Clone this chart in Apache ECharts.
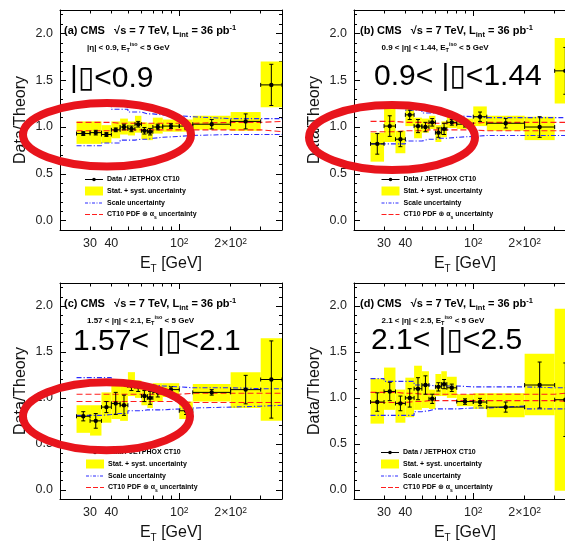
<!DOCTYPE html>
<html><head><meta charset="utf-8">
<script src="https://cdn.jsdelivr.net/npm/echarts@6/dist/echarts.min.js"></script>
<style>html,body{margin:0;padding:0;background:#fff;overflow:hidden;width:565px;height:544px}#c{width:590px;height:544px}</style>
</head><body><div id="c"></div>
<script>
// ---- bins (E_T in GeV) ----
const binLo = [25,30,35,40,45,50,55,60,65,70,80,100,120,200,300];
const binHi = [30,35,40,45,50,55,60,65,70,80,100,120,200,300,400];
// ---- tick labels ----
const xTickLabels = [30,40,100,200];
const xMinorTicks = [20,30,40,50,60,70,80,90,200,300,400];
const xMajorTicks = [100];
const yTickLabels = [0,0.5,1,1.5,2];
const yMinorTicks = [-0.1,0,0.1,0.2,0.3,0.4,0.5,0.6,0.7,0.8,0.9,1,1.1,1.2,1.3,1.4,1.5,1.6,1.7,1.8,1.9,2,2.1,2.2];
// ---- panel (a) |eta|<0.9 ----
const ratioA  = [0.93,0.94,0.92,0.97,1.00,0.98,1.03,0.96,0.95,1.00,1.01,1.01,1.03,1.06,1.45];
const statA   = [0.02,0.025,0.02,0.02,0.03,0.03,0.03,0.035,0.035,0.03,0.025,0.03,0.05,0.08,0.22];
const boxLoA  = [0.82,0.82,0.83,0.88,0.92,0.91,0.94,0.87,0.86,0.93,0.95,0.95,0.97,0.96,1.21];
const boxHiA  = [1.06,1.06,1.02,1.06,1.09,1.06,1.12,1.05,1.04,1.10,1.08,1.08,1.12,1.16,1.70];
const scaleUpA = [1.22,1.22,1.22,1.19,1.19,1.16,1.16,1.14,1.14,1.13,1.12,1.11,1.09,1.09,1.09];
const scaleLoA = [0.80,0.80,0.83,0.83,0.86,0.86,0.87,0.87,0.88,0.89,0.90,0.91,0.92,0.92,0.92];
const pdfUpA  = [1.05,1.05,1.05,1.04,1.04,1.04,1.04,1.04,1.04,1.04,1.04,1.04,1.05,1.05,1.06];
const pdfLoA  = [0.96,0.96,0.96,0.97,0.97,0.97,0.97,0.97,0.97,0.97,0.97,0.97,0.97,0.97,0.95];
// ---- panel (b) 0.9<|eta|<1.44 ----
const ratioB  = [0.82,1.01,0.87,1.13,1.01,1.00,1.05,0.94,0.98,1.05,1.03,1.11,1.04,1.00,1.60];
const statB   = [0.11,0.11,0.08,0.05,0.07,0.05,0.04,0.05,0.06,0.03,0.03,0.05,0.05,0.11,0.25];
const boxLoB  = [0.63,0.84,0.72,1.01,0.88,0.94,0.98,0.84,0.89,0.99,0.98,1.01,0.96,0.86,1.25];
const boxHiB  = [0.94,1.21,0.96,1.25,1.10,1.09,1.12,1.02,1.06,1.11,1.09,1.22,1.12,1.11,1.95];
const scaleUpB = [1.21,1.21,1.21,1.18,1.18,1.15,1.15,1.13,1.13,1.12,1.11,1.10,1.10,1.10,1.10];
const scaleLoB = [0.82,0.82,0.82,0.85,0.85,0.87,0.87,0.88,0.88,0.89,0.90,0.91,0.91,0.91,0.91];
const pdfUpB  = [1.06,1.06,1.05,1.05,1.05,1.04,1.04,1.04,1.04,1.04,1.04,1.05,1.05,1.05,1.05];
const pdfLoB  = [0.95,0.95,0.96,0.96,0.96,0.97,0.97,0.97,0.97,0.97,0.97,0.96,0.96,0.96,0.96];
// ---- panel (c) 1.57<|eta|<2.1 ----
const ratioC  = [0.80,0.75,0.90,0.94,0.92,1.13,1.12,1.02,1.00,1.06,1.09,0.86,1.06,1.09,1.20];
const statC   = [0.05,0.08,0.06,0.12,0.11,0.05,0.05,0.06,0.07,0.05,0.03,0.04,0.03,0.155,0.42];
const boxLoC  = [0.62,0.59,0.73,0.77,0.75,1.02,1.00,0.92,0.89,0.96,1.01,0.77,0.96,0.89,0.75];
const boxHiC  = [0.92,0.92,1.06,1.13,1.15,1.28,1.19,1.14,1.11,1.16,1.16,0.96,1.15,1.28,1.65];
const scaleUpC = [1.22,1.22,1.22,1.18,1.18,1.15,1.15,1.14,1.14,1.13,1.12,1.11,1.11,1.10,1.10];
const scaleLoC = [0.81,0.81,0.82,0.83,0.83,0.86,0.86,0.87,0.87,0.87,0.88,0.89,0.90,0.91,0.92];
const pdfUpC  = [1.04,1.04,1.04,1.04,1.04,1.04,1.04,1.04,1.04,1.04,1.04,1.05,1.05,1.05,1.05];
const pdfLoC  = [0.96,0.96,0.96,0.96,0.96,0.96,0.96,0.96,0.96,0.96,0.96,0.95,0.95,0.95,0.95];
// ---- panel (d) 2.1<|eta|<2.5 ----
const ratioD  = [0.955,1.07,0.94,1.00,1.10,1.14,0.99,1.12,1.15,1.11,0.96,0.955,0.90,1.14,0.98];
const statD   = [0.10,0.10,0.08,0.10,0.12,0.10,0.05,0.045,0.05,0.04,0.03,0.04,0.055,0.25,0.40];
const boxLoD  = [0.72,0.87,0.73,0.79,0.87,0.89,0.88,1.02,1.02,1.00,0.91,0.88,0.79,0.81,-0.01];
const boxHiD  = [1.21,1.33,1.09,1.22,1.35,1.29,1.09,1.26,1.29,1.23,1.04,1.05,1.05,1.48,1.97];
const scaleUpD = [1.21,1.18,1.18,1.18,1.14,1.14,1.13,1.13,1.13,1.13,1.12,1.12,1.12,1.11,1.11];
const scaleLoD = [0.81,0.81,0.81,0.81,0.85,0.86,0.88,0.88,0.88,0.88,0.89,0.89,0.91,0.88,0.88];
const pdfUpD  = [1.06,1.06,1.05,1.05,1.04,1.04,1.04,1.04,1.04,1.04,1.04,1.04,1.04,1.04,1.06];
const pdfLoD  = [0.95,0.95,0.95,0.96,0.96,0.97,0.97,0.97,0.97,0.97,0.97,0.97,0.97,0.97,0.96];

const FONT = '"Liberation Sans", Arial, Helvetica, "DejaVu Sans", sans-serif';
const YELLOW = '#ffff00', BLUE = '#2a2aff', RED = '#ff1e1e', ELL = '#e8141c';

const panels = [
  {grid:{left:60,top:10,width:222,height:220}, letter:'(a)', region:'|η| < 0.9', big:'|▯<0.9', bigPos:[70,79],
   ratio:ratioA, stat:statA, boxLo:boxLoA, boxHi:boxHiA, scaleUp:scaleUpA, scaleLo:scaleLoA, pdfUp:pdfUpA, pdfLo:pdfLoA,
   legX:25, t1x:4, t2x:27, ellipse:{cx:107,cy:134.8,rx:84,ry:31.8}},
  {grid:{left:354,top:10,width:222,height:220}, letter:'(b)', region:'0.9 < |η| < 1.44', big:'0.9< |▯<1.44', bigPos:[374,77],
   ratio:ratioB, stat:statB, boxLo:boxLoB, boxHi:boxHiB, scaleUp:scaleUpB, scaleLo:scaleLoB, pdfUp:pdfUpB, pdfLo:pdfLoB,
   legX:27.5, t1x:6, t2x:27.5, ellipse:{cx:392,cy:137.5,rx:83,ry:32.5}},
  {grid:{left:60,top:283,width:222,height:220}, letter:'(c)', region:'1.57 < |η| < 2.1', big:'1.57< |▯<2.1', bigPos:[73,342],
   ratio:ratioC, stat:statC, boxLo:boxLoC, boxHi:boxHiC, scaleUp:scaleUpC, scaleLo:scaleLoC, pdfUp:pdfUpC, pdfLo:pdfLoC,
   legX:26, t1x:4, t2x:27, ellipse:{cx:106.5,cy:416.3,rx:83.5,ry:34}},
  {grid:{left:354,top:283,width:222,height:220}, letter:'(d)', region:'2.1 < |η| < 2.5', big:'2.1< |▯<2.5', bigPos:[371,341],
   ratio:ratioD, stat:statD, boxLo:boxLoD, boxHi:boxHiD, scaleUp:scaleUpD, scaleLo:scaleLoD, pdfUp:pdfUpD, pdfLo:pdfLoD,
   legX:27, t1x:6, t2x:27.5, ellipse:null}
];

function renderBox(params, api) {
  const p1 = api.coord([api.value(0), api.value(3)]);
  const p2 = api.coord([api.value(1), api.value(2)]);
  return {type:'rect', shape:{x:p1[0], y:p1[1], width:p2[0]-p1[0], height:p2[1]-p1[1]}, style:{fill:YELLOW}};
}
function renderPoint(params, api) {
  const lo = api.value(0), hi = api.value(1), v = api.value(2), e = api.value(3);
  const pl = api.coord([lo, v]), ph = api.coord([hi, v]);
  const cx = (pl[0] + ph[0]) / 2, cy = pl[1];
  const yt = api.coord([lo, v + e])[1], yb = api.coord([lo, v - e])[1];
  const st = {stroke:'#000', lineWidth:1};
  return {type:'group', children:[
    {type:'line', shape:{x1:pl[0], y1:cy, x2:ph[0], y2:cy}, style:st},
    {type:'line', shape:{x1:pl[0], y1:cy-2, x2:pl[0], y2:cy+2}, style:st},
    {type:'line', shape:{x1:ph[0], y1:cy-2, x2:ph[0], y2:cy+2}, style:st},
    {type:'line', shape:{x1:cx, y1:yt, x2:cx, y2:yb}, style:st},
    {type:'line', shape:{x1:cx-2, y1:yt, x2:cx+2, y2:yt}, style:st},
    {type:'line', shape:{x1:cx-2, y1:yb, x2:cx+2, y2:yb}, style:st},
    {type:'circle', shape:{cx:cx, cy:cy, r:2.2}, style:{fill:'#000'}}
  ]};
}

const grids = [], xAxes = [], yAxes = [], series = [], graphics = [];
const xBase = {type:'log', logBase:10, min:20, max:400, splitLine:{show:false}};
const yBase = {type:'value', min:-0.1, max:2.25, splitLine:{show:false}};
const frameLine = {show:true, onZero:false, lineStyle:{color:'#000', width:1}};
const noLine = {show:false, onZero:false};

panels.forEach((p, k) => {
  grids.push(Object.assign({containLabel:false}, p.grid));
  // x axes
  xAxes.push(Object.assign({}, xBase, {gridIndex:k, position:'bottom', axisLine:frameLine,
    axisTick:{show:true, inside:true, length:3.5, customValues:xMinorTicks, lineStyle:{color:'#000'}},
    axisLabel:{show:true, customValues:xTickLabels, margin:7, color:'#222', fontSize:12.5, fontFamily:FONT,
      formatter:(v)=>{const r=Math.round(v); if(r===100) return '10{sup|2}'; if(r===200) return '2×10{sup|2}'; return String(r);},
      rich:{sup:{fontSize:8.5, verticalAlign:'top', fontFamily:FONT, color:'#222'}}},
    name:'E{sub|T} [GeV]', nameLocation:'middle', nameGap:24,
    nameTextStyle:{fontSize:16, color:'#111', fontFamily:FONT, lineHeight:20, rich:{sub:{fontSize:10, verticalAlign:'bottom', fontFamily:FONT, color:'#111'}}}}));
  xAxes.push(Object.assign({}, xBase, {gridIndex:k, position:'bottom', axisLine:noLine, axisLabel:{show:false},
    axisTick:{show:true, inside:true, length:6, customValues:xMajorTicks, lineStyle:{color:'#000'}}}));
  xAxes.push(Object.assign({}, xBase, {gridIndex:k, position:'top', axisLine:frameLine, axisLabel:{show:false},
    axisTick:{show:true, inside:true, length:3.5, customValues:xMinorTicks, lineStyle:{color:'#000'}}}));
  xAxes.push(Object.assign({}, xBase, {gridIndex:k, position:'top', axisLine:noLine, axisLabel:{show:false},
    axisTick:{show:true, inside:true, length:6, customValues:xMajorTicks, lineStyle:{color:'#000'}}}));
  // y axes
  yAxes.push(Object.assign({}, yBase, {gridIndex:k, position:'left', axisLine:frameLine,
    axisTick:{show:true, inside:true, length:6, customValues:yTickLabels, lineStyle:{color:'#000'}},
    axisLabel:{show:true, customValues:yTickLabels, margin:7, color:'#222', fontSize:12.5, fontFamily:FONT,
      formatter:(v)=>Number(v).toFixed(1)},
    name:'Data/Theory', nameLocation:'middle', nameGap:31, nameRotate:90,
    nameTextStyle:{fontSize:16, color:'#111', fontFamily:FONT}}));
  yAxes.push(Object.assign({}, yBase, {gridIndex:k, position:'left', axisLine:noLine, axisLabel:{show:false},
    axisTick:{show:true, inside:true, length:3, customValues:yMinorTicks, lineStyle:{color:'#000'}}}));
  yAxes.push(Object.assign({}, yBase, {gridIndex:k, position:'right', axisLine:frameLine, axisLabel:{show:false},
    axisTick:{show:true, inside:true, length:6, customValues:yTickLabels, lineStyle:{color:'#000'}}}));
  yAxes.push(Object.assign({}, yBase, {gridIndex:k, position:'right', axisLine:noLine, axisLabel:{show:false},
    axisTick:{show:true, inside:true, length:3, customValues:yMinorTicks, lineStyle:{color:'#000'}}}));

  const xi = 4*k, yi = 4*k;
  series.push({type:'custom', name:'Stat. + syst. uncertainty', xAxisIndex:xi, yAxisIndex:yi, z:1, silent:true, clip:true,
    encode:{x:[0,1], y:[2,3]}, renderItem:renderBox,
    data: binLo.map((lo,i)=>[lo, binHi[i], p.boxLo[i], p.boxHi[i]])});
  const stepData = arr => binLo.map((lo,i)=>[lo, arr[i]]).concat([[binHi[binHi.length-1], arr[arr.length-1]]]);
  [p.scaleUp, p.scaleLo].forEach(arr => series.push({type:'line', name:'Scale uncertainty', step:'end', xAxisIndex:xi, yAxisIndex:yi,
    z:2, silent:true, symbol:'none', animation:false, data:stepData(arr),
    lineStyle:{color:BLUE, width:1.1, type:[5,2,1.2,2]}}));
  [p.pdfUp, p.pdfLo].forEach(arr => series.push({type:'line', name:'CT10 PDF uncertainty', step:'end', xAxisIndex:xi, yAxisIndex:yi,
    z:3, silent:true, symbol:'none', animation:false, data:stepData(arr),
    lineStyle:{color:RED, width:1.1, type:[6,3]}}));
  series.push({type:'custom', name:'Data / JETPHOX CT10', xAxisIndex:xi, yAxisIndex:yi, z:5, silent:true, clip:true,
    encode:{x:[0,1], y:2}, renderItem:renderPoint,
    data: binLo.map((lo,i)=>[lo, binHi[i], p.ratio[i], p.stat[i]])});

  // in-panel texts
  const gx = p.grid.left, gy = p.grid.top;
  graphics.push({type:'text', x:gx+p.t1x, y:gy+21, z:100, style:{
    text:p.letter+' CMS   √s = 7 TeV, L{sub|int} = 36 pb{sup|-1}', fill:'#000',
    font:'bold 11px '+FONT, verticalAlign:'middle', align:'left', lineHeight:15,
    rich:{sub:{font:'bold 7.5px '+FONT, verticalAlign:'bottom', lineHeight:15, fill:'#000'},
          sup:{font:'bold 7.5px '+FONT, verticalAlign:'top', lineHeight:15, fill:'#000'}}}});
  graphics.push({type:'text', x:gx+p.t2x, y:gy+37.5, z:100, style:{
    text:p.region+', E{sub|T}{sup|iso} < 5 GeV', fill:'#000',
    font:'bold 8px '+FONT, verticalAlign:'middle', align:'left', lineHeight:12,
    rich:{sub:{font:'bold 5.5px '+FONT, verticalAlign:'bottom', lineHeight:12, fill:'#000'},
          sup:{font:'bold 5.5px '+FONT, verticalAlign:'top', lineHeight:12, fill:'#000'}}}});
  // legend
  const rows = [169.5, 181, 193, 204.5].map(r => gy + r);
  const sx = gx + p.legX, ex = sx + 18, tx = ex + 4;
  graphics.push({type:'line', z:100, shape:{x1:sx, y1:rows[0], x2:ex, y2:rows[0]}, style:{stroke:'#000', lineWidth:1}});
  graphics.push({type:'circle', z:100, shape:{cx:(sx+ex)/2, cy:rows[0], r:1.8}, style:{fill:'#000'}});
  graphics.push({type:'rect', z:100, shape:{x:sx, y:rows[1]-4.5, width:18, height:9}, style:{fill:YELLOW}});
  graphics.push({type:'line', z:100, shape:{x1:sx, y1:rows[2], x2:ex, y2:rows[2]}, style:{stroke:BLUE, lineWidth:1, lineDash:[3,1.5,1,1.5]}});
  graphics.push({type:'line', z:100, shape:{x1:sx, y1:rows[3], x2:ex, y2:rows[3]}, style:{stroke:RED, lineWidth:1, lineDash:[5,2]}});
  const legTexts = ['Data / JETPHOX CT10', 'Stat. + syst. uncertainty', 'Scale uncertainty', 'CT10 PDF ⊕ α{sub|s} uncertainty'];
  legTexts.forEach((t, i) => graphics.push({type:'text', z:100, x:tx, y:rows[i], style:{
    text:t, fill:'#000', font:'bold 7px '+FONT, verticalAlign:'middle', align:'left', lineHeight:11,
    rich:{sub:{font:'bold 5px '+FONT, verticalAlign:'bottom', lineHeight:11, fill:'#000'}}}}));
  // overlay annotations
  graphics.push({type:'text', z:110, x:p.bigPos[0], y:p.bigPos[1], style:{
    text:p.big, fill:'#000', font:'30px '+FONT, verticalAlign:'middle', align:'left'}});
  if (p.ellipse) {
    graphics.push({type:'ellipse', z:120, shape:p.ellipse, style:{fill:'none', stroke:ELL, lineWidth:8}});
  }
});

const chart = echarts.init(document.getElementById('c'), null, {renderer:'canvas'});
chart.setOption({
  animation:false,
  backgroundColor:'#fff',
  grid:grids, xAxis:xAxes, yAxis:yAxes, series:series,
  graphic:{elements:graphics}
});
</script>
</body></html>
